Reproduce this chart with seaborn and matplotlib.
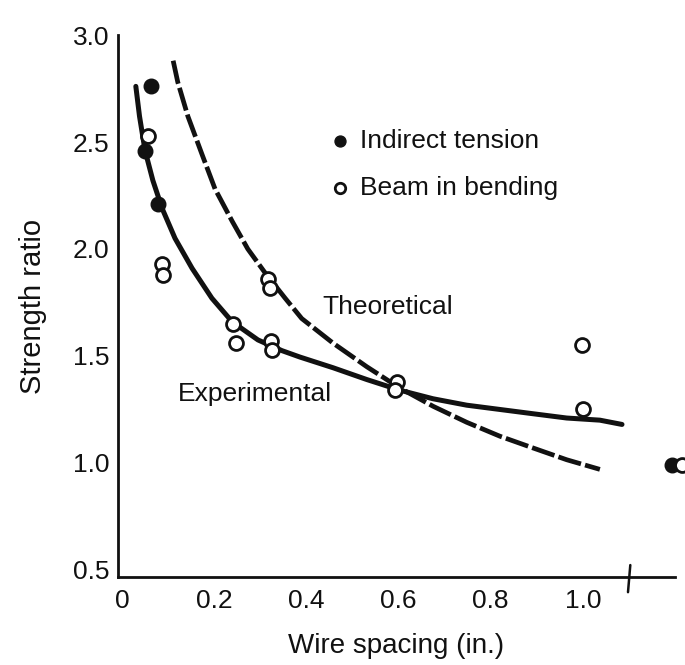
import matplotlib
matplotlib.use("Agg")
import matplotlib.pyplot as plt
import seaborn as sns
import pandas as pd

# ---- data ----
tension_x = [0.063, 0.050, 0.078, 1.193]
tension_y = [2.76, 2.46, 2.21, 0.99]

bending_x = [0.056, 0.087, 0.089, 0.241, 0.247, 0.317, 0.321, 0.323, 0.325,
             0.597, 0.592, 0.998, 1.000, 1.215]
bending_y = [2.53, 1.93, 1.88, 1.65, 1.56, 1.86, 1.82, 1.57, 1.53,
             1.38, 1.34, 1.55, 1.25, 0.99]

exp_x = [0.030, 0.038, 0.050, 0.067, 0.087, 0.115, 0.152, 0.195, 0.239,
         0.295, 0.347, 0.386, 0.458, 0.531, 0.603, 0.675, 0.748, 0.820,
         0.892, 0.965, 1.037, 1.085]
exp_y = [2.76, 2.62, 2.46, 2.32, 2.19, 2.05, 1.91, 1.77, 1.66,
         1.575, 1.525, 1.495, 1.445, 1.39, 1.34, 1.30, 1.27, 1.25,
         1.23, 1.21, 1.20, 1.18]

theo_x = [0.111, 0.121, 0.143, 0.174, 0.202, 0.239, 0.273, 0.310, 0.354,
          0.390, 0.458, 0.531, 0.603, 0.675, 0.748, 0.820, 0.892, 0.965,
          1.037]
theo_y = [2.88, 2.78, 2.62, 2.44, 2.28, 2.13, 2.00, 1.89, 1.77,
          1.675, 1.56, 1.45, 1.35, 1.265, 1.19, 1.125, 1.07, 1.015,
          0.97]

xticks = [0, 0.2, 0.4, 0.6, 0.8, 1.0, 1.2]
xticklabels = ["0", "0.2", "0.4", "0.6", "0.8", "1.0", ""]
yticks = [0.5, 1.0, 1.5, 2.0, 2.5, 3.0]
yticklabels = ["0.5", "1.0", "1.5", "2.0", "2.5", "3.0"]

series_labels = ["Indirect tension", "Beam in bending"]
curve_labels = ["Theoretical", "Experimental"]

# ---- style ----
sns.set_theme(style="white")
plt.rcParams["font.family"] = ["Liberation Sans", "DejaVu Sans"]
ink = "#111111"

fig = plt.figure(figsize=(6.85, 6.65), dpi=100)
ax = fig.add_axes([118/685, 1 - 577/665, (675 - 118)/685, 0.815])

exp_df = pd.DataFrame({"x": exp_x, "y": exp_y})
theo_df = pd.DataFrame({"x": theo_x, "y": theo_y})

sns.lineplot(data=exp_df, x="x", y="y", ax=ax, color=ink, lw=3.6,
             sort=False, estimator=None)
ax.lines[-1].set_solid_capstyle("round")
ax.lines[-1].set_solid_joinstyle("round")
sns.lineplot(data=theo_df, x="x", y="y", ax=ax, color=ink, lw=3.4,
             sort=False, estimator=None)
ax.lines[-1].set_dashes((5, 0.9))
ax.lines[-1].set_dash_joinstyle("round")

t_df = pd.DataFrame({"x": tension_x, "y": tension_y})
b_df = pd.DataFrame({"x": bending_x, "y": bending_y})
sns.scatterplot(data=t_df, x="x", y="y", ax=ax, s=110, color=ink,
                edgecolor=ink, linewidth=1.0, label=series_labels[0],
                clip_on=False, zorder=5)
sns.scatterplot(data=b_df, x="x", y="y", ax=ax, s=100, facecolor="white",
                edgecolor=ink, linewidth=2.0, label=series_labels[1],
                clip_on=False, zorder=5)

ax.set_xlim(-0.0087, 1.2)
ax.set_ylim(0.467, 3.0)

ax.set_xticks(xticks)
ax.set_xticklabels(xticklabels)
ax.set_yticks(yticks)
ax.set_yticklabels(yticklabels)

for s in ["top", "right"]:
    ax.spines[s].set_visible(False)
for s in ["left", "bottom"]:
    ax.spines[s].set_color(ink)
    ax.spines[s].set_linewidth(2.0)

ax.tick_params(axis="x", direction="in", length=11, width=1.8, color=ink,
               labelsize=19, pad=9, labelcolor=ink)
ax.tick_params(axis="y", direction="in", length=8, width=1.8, color=ink,
               labelsize=19, pad=6, labelcolor=ink)

ax.set_xlabel("Wire spacing (in.)", fontsize=20, color=ink, labelpad=14)
ax.set_ylabel("Strength ratio", fontsize=21, color=ink)
ax.yaxis.set_label_coords(-0.128, 0.50)

# axis break mark on the x axis
ax.plot([1.098, 1.103], [-0.028, 0.022], transform=ax.get_xaxis_transform(),
        color=ink, lw=1.8, clip_on=False)

ax.text(0.434, 1.73, curve_labels[0], fontsize=19, color=ink,
        ha="left", va="center")
ax.text(0.121, 1.32, curve_labels[1], fontsize=19, color=ink,
        ha="left", va="center")

leg = ax.legend(loc="upper left", bbox_to_anchor=(320/685, 1 - 116/665),
                bbox_transform=fig.transFigure, frameon=False, fontsize=19,
                handlelength=0.5, handletextpad=0.5, labelspacing=0.85,
                borderpad=0, markerscale=0.75)
for t in leg.get_texts():
    t.set_color(ink)

fig.savefig("out.png", dpi=100, facecolor="white")
